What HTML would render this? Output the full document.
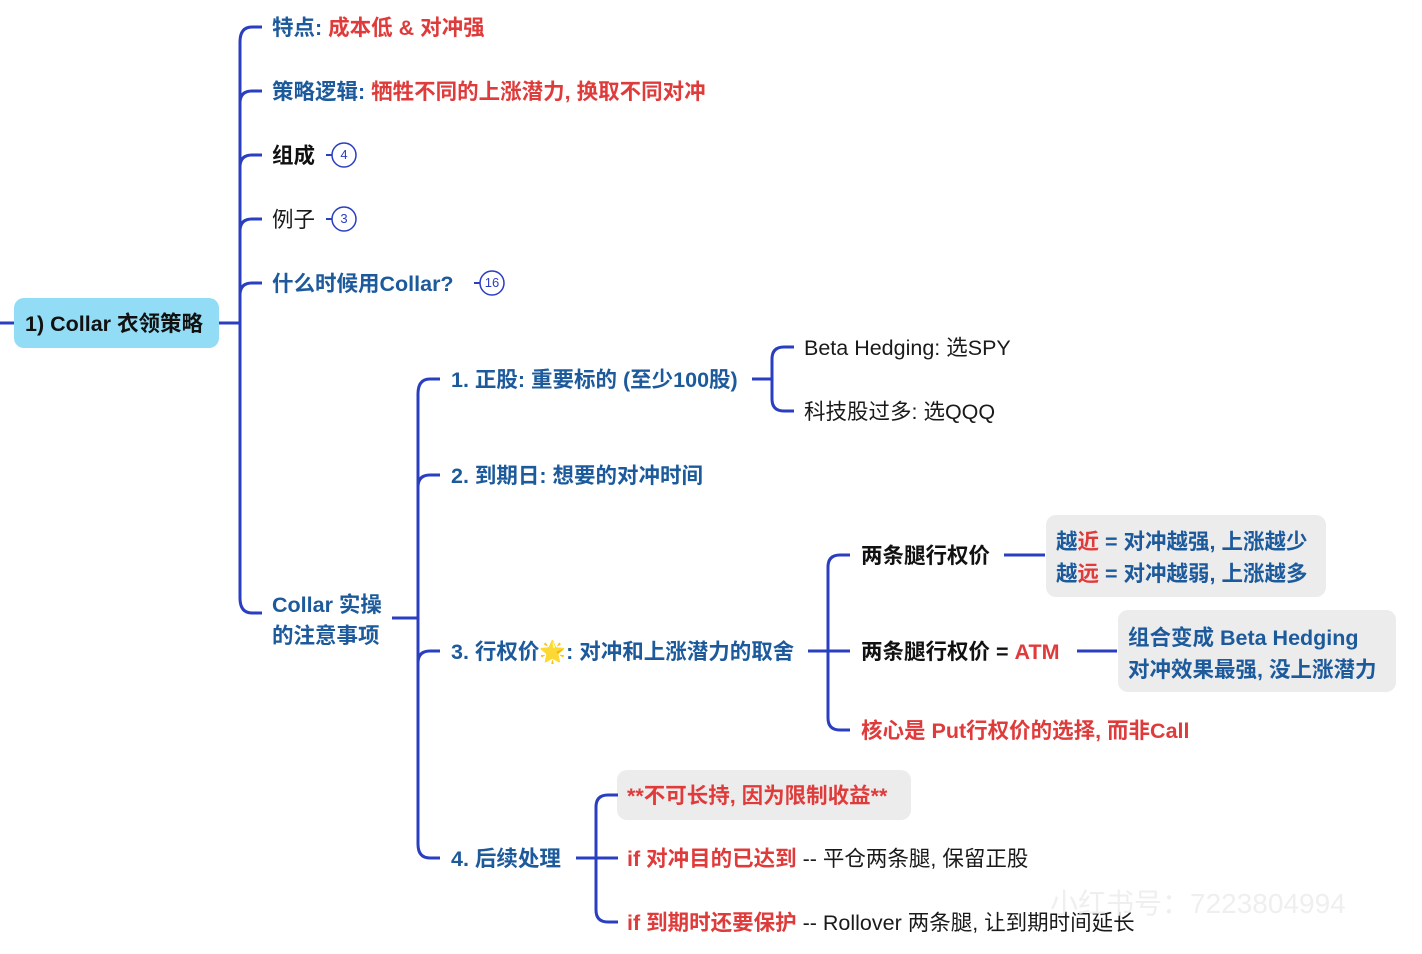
<!DOCTYPE html>
<html><head><meta charset="utf-8"><style>
body{margin:0;width:1422px;height:954px;background:#fff;position:relative;overflow:hidden;font-family:"Liberation Sans","Noto Sans CJK SC",sans-serif;}
.t{position:absolute;font-size:21.5px;line-height:28px;white-space:nowrap;color:#1a1a1a;}
.b{color:#1d5a9c;font-weight:bold;}
.r{color:#e03b3b;font-weight:bold;}
.k{font-weight:bold;color:#111;}
.box{position:absolute;background:#ececec;border-radius:10px;}
svg{position:absolute;left:0;top:0;}
</style></head><body>
<div class="box" style="left:14px;top:298px;width:205px;height:50px;background:#92dcf5;"></div>
<div class="box" style="left:1046px;top:515px;width:280px;height:82px;"></div>
<div class="box" style="left:1118px;top:610px;width:278px;height:82px;"></div>
<div class="box" style="left:617px;top:770px;width:294px;height:50px;"></div>
<svg width="1422" height="954" fill="none" stroke="#2a3ec0" stroke-width="3">
<path d="M0 323H14M219 323H240"/>
<path d="M262 27H252Q240 27 240 42V598Q240 613 252 613H262"/>
<path d="M240 103Q240 91 252 91H262M240 167Q240 155 252 155H262M240 231Q240 219 252 219H262M240 295Q240 283 252 283H262"/>
<path d="M392 618H418"/>
<path d="M440 379H430Q418 379 418 394V844Q418 858 430 858H440"/>
<path d="M418 487Q418 475 430 475H440M418 663Q418 651 430 651H440"/>
<path d="M752 379H772M794 347H784Q772 347 772 359V399Q772 411 784 411H794"/>
<path d="M808 651H850M850 555H840Q828 555 828 567V718Q828 730 840 730H850"/>
<path d="M1004 555H1045M1077 651H1117"/>
<path d="M576 858H618M618 795H608Q596 795 596 807V910Q596 922 608 922H618"/>
<path d="M326 155H332M326 219H332M474 283H480" stroke-width="2"/>
</svg>
<svg width="1422" height="954" fill="none" stroke="#2a3ec0" stroke-width="1.5">
<circle cx="344" cy="155" r="12"/><circle cx="344" cy="219" r="12"/><circle cx="492" cy="283" r="12"/>
</svg>
<div class="t" style="left:332px;top:143px;width:24px;text-align:center;font-size:13px;line-height:24px;color:#2a3ec0">4</div>
<div class="t" style="left:332px;top:207px;width:24px;text-align:center;font-size:13px;line-height:24px;color:#2a3ec0">3</div>
<div class="t" style="left:480px;top:271px;width:24px;text-align:center;font-size:13px;line-height:24px;color:#2a3ec0">16</div>

<div class="t k" style="left:25px;top:310px;">1) Collar 衣领策略</div>
<div class="t b" style="left:272px;top:14px;">特点: <span class="r">成本低 &amp; 对冲强</span></div>
<div class="t b" style="left:272px;top:78px;">策略逻辑: <span class="r">牺牲不同的上涨潜力, 换取不同对冲</span></div>
<div class="t k" style="left:272px;top:142px;">组成</div>
<div class="t" style="left:272px;top:206px;">例子</div>
<div class="t b" style="left:272px;top:270px;">什么时候用Collar?</div>
<div class="t b" style="left:272px;top:590px;line-height:31px;">Collar 实操<br>的注意事项</div>
<div class="t b" style="left:451px;top:366px;">1. 正股: 重要标的 (至少100股)</div>
<div class="t" style="left:804px;top:334px;">Beta Hedging: 选SPY</div>
<div class="t" style="left:804px;top:398px;">科技股过多: 选QQQ</div>
<div class="t b" style="left:451px;top:462px;">2. 到期日: 想要的对冲时间</div>
<div class="t b" style="left:451px;top:638px;">3. 行权价🌟: 对冲和上涨潜力的取舍</div>
<div class="t k" style="left:861px;top:542px;">两条腿行权价</div>
<div class="t b" style="left:1056px;top:526px;line-height:32px;">越<span class="r">近</span> = 对冲越强, 上涨越少<br>越<span class="r">远</span> = 对冲越弱, 上涨越多</div>
<div class="t k" style="left:861px;top:638px;">两条腿行权价 = <span class="r">ATM</span></div>
<div class="t b" style="left:1128px;top:622px;line-height:32px;">组合变成 Beta Hedging<br>对冲效果最强, 没上涨潜力</div>
<div class="t r" style="left:861px;top:717px;">核心是 Put行权价的选择, 而非Call</div>
<div class="t b" style="left:451px;top:845px;">4. 后续处理</div>
<div class="t r" style="left:627px;top:782px;">**不可长持, 因为限制收益**</div>
<div class="t" style="left:627px;top:845px;"><span class="r">if 对冲目的已达到</span> -- 平仓两条腿, 保留正股</div>
<div class="t" style="left:627px;top:909px;"><span class="r">if 到期时还要保护</span> -- Rollover 两条腿, 让到期时间延长</div>
<div class="t" style="left:1050px;top:886px;font-size:28px;line-height:36px;color:#efefef;">小红书号：7223804994</div>
</body></html>
